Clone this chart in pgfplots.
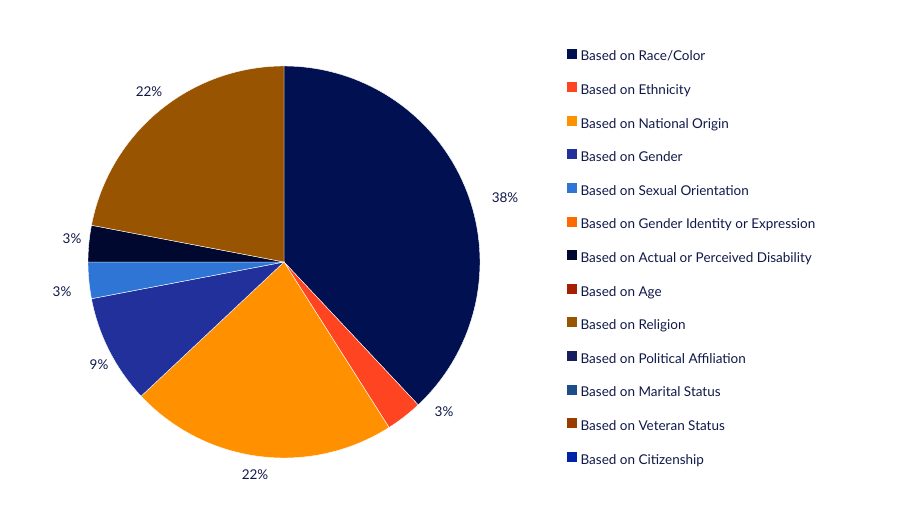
\documentclass[border=0pt]{standalone}
\usepackage{pgfplots}
\pgfplotsset{compat=1.18}
\usepackage{pgfplotstable}
\usepackage{fontspec}
\setmainfont{Lato}

\definecolor{txt}{RGB}{16,24,72}
\definecolor{cRace}{RGB}{0,16,80}
\definecolor{cEth}{RGB}{255,68,34}
\definecolor{cNat}{RGB}{255,144,0}
\definecolor{cGen}{RGB}{33,48,154}
\definecolor{cSex}{RGB}{46,117,214}
\definecolor{cGid}{RGB}{255,106,0}
\definecolor{cDis}{RGB}{0,8,48}
\definecolor{cAge}{RGB}{168,30,0}
\definecolor{cRel}{RGB}{152,84,0}
\definecolor{cPol}{RGB}{22,30,94}
\definecolor{cMar}{RGB}{30,77,140}
\definecolor{cVet}{RGB}{154,60,0}
\definecolor{cCit}{RGB}{0,36,168}

% share of each category (percent), clockwise from 12 o'clock
\pgfplotstableread{
label value color
RaceColor 38 cRace
Ethnicity 3 cEth
National 22 cNat
Gender 9 cGen
Sexual 3 cSex
Disability 3 cDis
Religion 22 cRel
}\piedata

\begin{document}
\begin{tikzpicture}
\begin{axis}[
    width=897bp, height=525bp, scale only axis,
    xmin=0, xmax=897, ymin=0, ymax=525,
    enlargelimits=false, hide axis, clip=false,
    font=\fontsize{13.5bp}{16bp}\selectfont,
    legend cell align=left,
    legend image code/.code={\fill[#1] (0bp,0bp) rectangle (9bp,9bp);},
    legend style={at={(axis cs:567,476.5)}, anchor=north west,
        draw=none, fill=none, inner sep=0pt, row sep=18.4bp, column sep=4bp,
        text=txt, font=\fontsize{13.5bp}{16bp}\selectfont,
        nodes={inner sep=0pt, text height=9bp, text depth=3bp}},
]
\path (axis cs:0,0) rectangle (axis cs:897,525);

\def\cum{0}
\pgfplotsforeachungrouped \i in {0,...,6}{
  \pgfplotstablegetelem{\i}{value}\of\piedata \let\v\pgfplotsretval
  \pgfplotstablegetelem{\i}{color}\of\piedata \let\c\pgfplotsretval
  \pgfmathsetmacro\a{90-3.6*\cum}
  \pgfmathsetmacro\b{90-3.6*(\cum+\v)}
  \edef\temp{\noexpand\addplot[fill=\c, draw=white, line width=0.4bp,
      domain=\b:\a, samples=80, forget plot]
      ({284+196*cos(x)},{263+196*sin(x)}) -- (axis cs:284,263) -- cycle;}
  \temp
  \pgfmathsetmacro\cum{\cum+\v}
}

% legend entries
\addlegendimage{cRace}\addlegendentry{Based on Race/Color}
\addlegendimage{cEth}\addlegendentry{Based on Ethnicity}
\addlegendimage{cNat}\addlegendentry{Based on National Origin}
\addlegendimage{cGen}\addlegendentry{Based on Gender}
\addlegendimage{cSex}\addlegendentry{Based on Sexual Orientation}
\addlegendimage{cGid}\addlegendentry{Based on Gender Identity or Expression}
\addlegendimage{cDis}\addlegendentry{Based on Actual or Perceived Disability}
\addlegendimage{cAge}\addlegendentry{Based on Age}
\addlegendimage{cRel}\addlegendentry{Based on Religion}
\addlegendimage{cPol}\addlegendentry{Based on Political Affiliation}
\addlegendimage{cMar}\addlegendentry{Based on Marital Status}
\addlegendimage{cVet}\addlegendentry{Based on Veteran Status}
\addlegendimage{cCit}\addlegendentry{Based on Citizenship}

% data labels
\begin{scope}[every node/.style={text=txt}]
\node at (axis cs:505,327) {38\%};
\node at (axis cs:444,113) {3\%};
\node at (axis cs:255,50) {22\%};
\node at (axis cs:99,160) {9\%};
\node at (axis cs:62,233) {3\%};
\node at (axis cs:72,286) {3\%};
\node at (axis cs:149,433) {22\%};
\end{scope}
\end{axis}
\end{tikzpicture}
\end{document}
